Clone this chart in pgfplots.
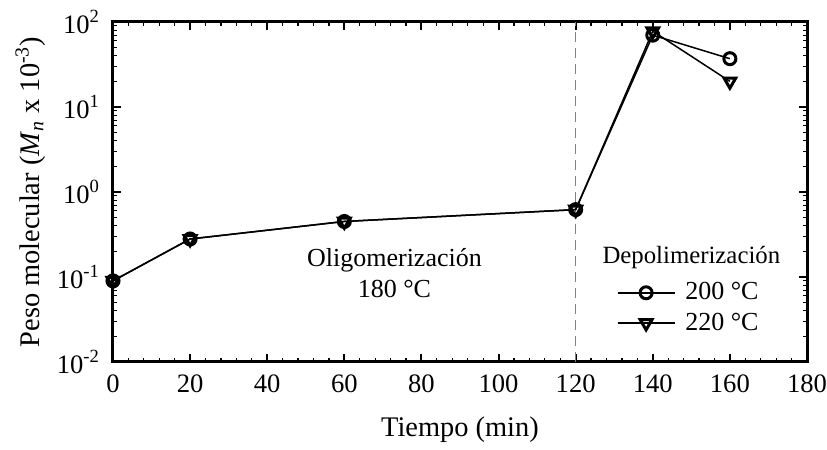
\documentclass[border=0pt]{standalone}
\usepackage{fontspec}
\setmainfont{Liberation Serif}
\usepackage{pgfplots}
\pgfplotsset{compat=1.18}
\begin{document}
\begin{tikzpicture}
\begin{axis}[
  scale only axis,
  width=347pt, height=170pt,
  xmin=0, xmax=180,
  ymode=log, ymin=0.01, ymax=100,
  xtick={0,20,...,180},
  minor x tick num=4,
  ytick={0.01,0.1,1,10,100},
  yticklabels={10\textsuperscript{-2},10\textsuperscript{-1},10\textsuperscript{0},10\textsuperscript{1},10\textsuperscript{2}},
  /pgf/number format/assume math mode=true,
  tick align=inside,
  tick pos=both,
  major tick length=4pt,
  minor tick length=2pt,
  axis line style={line width=1.5pt},
  every tick/.style={black, line width=1pt},
  every minor tick/.style={black, line width=0.6pt},
  tick label style={font=\fontsize{13.3}{15}\selectfont},
  label style={font=\fontsize{14.2}{16}\selectfont},
  xlabel={Tiempo (min)},
  ylabel={Peso molecular (\textit{M}\textsubscript{\textit{n}} x 10\textsuperscript{-3})},
  xlabel style={yshift=-5pt},
  ylabel style={yshift=-1pt},
  xticklabel style={yshift=-3pt},
  yticklabel style={xshift=-3pt},
  legend style={draw=none, fill=none, font=\fontsize{13}{15}\selectfont,
    at={(0.831,0.159)}, anchor=center, row sep=1pt},
  legend cell align=left,
  legend image code/.code={\draw[mark repeat=2,mark phase=2,#1] plot coordinates {(0cm,0cm)(0.5cm,0cm)(1cm,0cm)};},
  clip=false,
]
\addplot[gray, dashed, line width=0.8pt, dash pattern=on 5pt off 3pt, forget plot] coordinates {(120,0.01) (120,100)};
\addplot[black, line width=0.75pt, mark=o, mark size=3pt, mark options={line width=1.5pt, solid}] coordinates {
  (0,0.09) (20,0.28) (60,0.45) (120,0.62) (140,70) (160,37)};
\addlegendentry{\hspace{3pt}200 °C}
\addplot[black, line width=0.75pt, mark=triangle, mark size=3.4pt, mark options={line width=1.5pt, solid, rotate=180}] coordinates {
  (0,0.09) (20,0.28) (60,0.45) (120,0.62) (140,78) (160,20)};
\addlegendentry{\hspace{3pt}220 °C}
\node[font=\fontsize{13}{15.5}\selectfont, align=center] at (axis cs:73,0.111) {Oligomerización\\180 °C};
\node[font=\fontsize{12.4}{15}\selectfont] at (axis cs:150,0.168) {Depolimerización};
\end{axis}
\pgfresetboundingbox
\path[use as bounding box] ([shift={(-56.5pt,-44pt)}]current axis.south west) rectangle ([shift={(10pt,11pt)}]current axis.north east);
\end{tikzpicture}
\end{document}
